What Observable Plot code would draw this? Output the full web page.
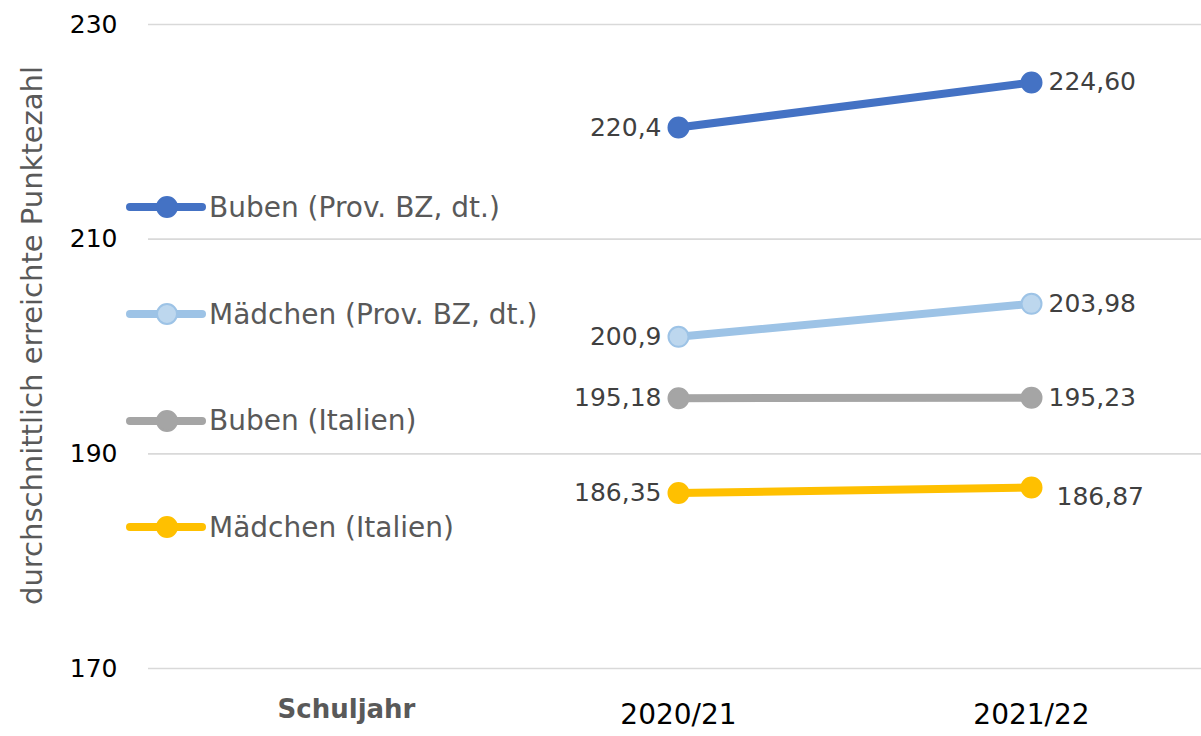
<!DOCTYPE html>
<html>
<head>
<meta charset="utf-8">
<script src="https://cdn.jsdelivr.net/npm/d3@7"></script>
<script src="https://cdn.jsdelivr.net/npm/@observablehq/plot@0.6"></script>
<style>
  html, body { margin: 0; padding: 0; background: #fff; overflow: hidden; }
  #wrap { position: relative; width: 1201px; height: 736px; font-family: "DejaVu Sans", sans-serif; }
  #legend { position: absolute; left: 126px; top: 154px; }
  .row { height: 106.7px; display: flex; align-items: center; }
  .row span { margin-left: 3px; font-size: 28px; color: #595959; white-space: nowrap; }
</style>
</head>
<body>
<div id="wrap"><div id="legend"></div></div>
<script>
// ---- data ----
const categories = ["Schuljahr", "2020/21", "2021/22"];
const years = ["2020/21", "2021/22"];
const seriesNames = ["Buben (Prov. BZ, dt.)", "Mädchen (Prov. BZ, dt.)", "Buben (Italien)", "Mädchen (Italien)"];
const bubenBZ = [220.4, 224.60];
const maedchenBZ = [200.9, 203.98];
const bubenIT = [195.18, 195.23];
const maedchenIT = [186.35, 186.87];
const bubenBZLabels = ["220,4", "224,60"];
const maedchenBZLabels = ["200,9", "203,98"];
const bubenITLabels = ["195,18", "195,23"];
const maedchenITLabels = ["186,35", "186,87"];
const yTicks = [170, 190, 210, 230];
const yTitle = "durchschnittlich erreichte Punktezahl";
const xTitle = "Schuljahr";

// ---- styles ----
const lineColors = ["#4472C4", "#9DC3E6", "#A5A5A5", "#FFC000"];
const dotFills = ["#4472C4", "#BDD7EE", "#A5A5A5", "#FFC000"];

const values = [bubenBZ, maedchenBZ, bubenIT, maedchenIT];
const labels = [bubenBZLabels, maedchenBZLabels, bubenITLabels, maedchenITLabels];
const data = [];
seriesNames.forEach((s, si) => years.forEach((y, yi) => data.push({
  series: s, si, year: y, yi, value: values[si][yi], label: labels[si][yi]
})));

const special = d => d.si === 3 && d.yi === 1;

const chart = Plot.plot({
  width: 1201,
  height: 736,
  marginLeft: 148,
  marginRight: 0,
  marginTop: 24,
  marginBottom: 68,
  style: { fontFamily: "DejaVu Sans, sans-serif", background: "#fff" },
  x: { type: "point", domain: categories, range: [324.5, 1031], padding: 0 },
  y: { domain: [170, 230] },
  color: { domain: seriesNames, range: lineColors },
  marks: [
    Plot.gridY({ ticks: yTicks, stroke: "#D9D9D9", strokeOpacity: 1, strokeWidth: 1.6 }),
    Plot.axisY({ ticks: yTicks, tickSize: 0, tickPadding: 31, fontSize: 25, fill: "#000", label: null }),
    Plot.axisX({ ticks: years, tickSize: 0, tickPadding: 36, fontSize: 28, fill: "#000", label: null }),
    Plot.text([xTitle], { x: d => d, frameAnchor: "bottom", dy: 49, dx: 21, fontSize: 26, fontWeight: "bold", fill: "#595959" }),
    Plot.text([yTitle], { frameAnchor: "left", textAnchor: "middle", rotate: -90, dx: -116, dy: -11, fontSize: 29, fill: "#595959" }),
    Plot.line(data, { x: "year", y: "value", z: "series", stroke: "series", strokeWidth: 8, strokeLinecap: "round" }),
    Plot.dot(data, { x: "year", y: "value", r: 10, fill: d => dotFills[d.si], stroke: "series", strokeWidth: 2 }),
    Plot.text(data.filter(d => d.yi === 0), { x: "year", y: "value", text: "label", textAnchor: "end", dx: -17, fontSize: 25, fill: "#404040" }),
    Plot.text(data.filter(d => d.yi === 1 && !special(d)), { x: "year", y: "value", text: "label", textAnchor: "start", dx: 17, fontSize: 25, fill: "#404040" }),
    Plot.text(data.filter(special), { x: "year", y: "value", text: "label", textAnchor: "start", dx: 25, dy: 10, fontSize: 25, fill: "#404040" })
  ]
});
document.getElementById("wrap").prepend(chart);

// legend overlay
const legend = document.getElementById("legend");
seriesNames.forEach((s, i) => {
  const row = document.createElement("div");
  row.className = "row";
  row.innerHTML = `<svg width="80" height="24"><line x1="4" y1="12" x2="76" y2="12" stroke="${lineColors[i]}" stroke-width="8" stroke-linecap="round"/><circle cx="41" cy="12" r="10" fill="${dotFills[i]}" stroke="${lineColors[i]}" stroke-width="2"/></svg><span>${s}</span>`;
  legend.appendChild(row);
});
</script>
</body>
</html>
